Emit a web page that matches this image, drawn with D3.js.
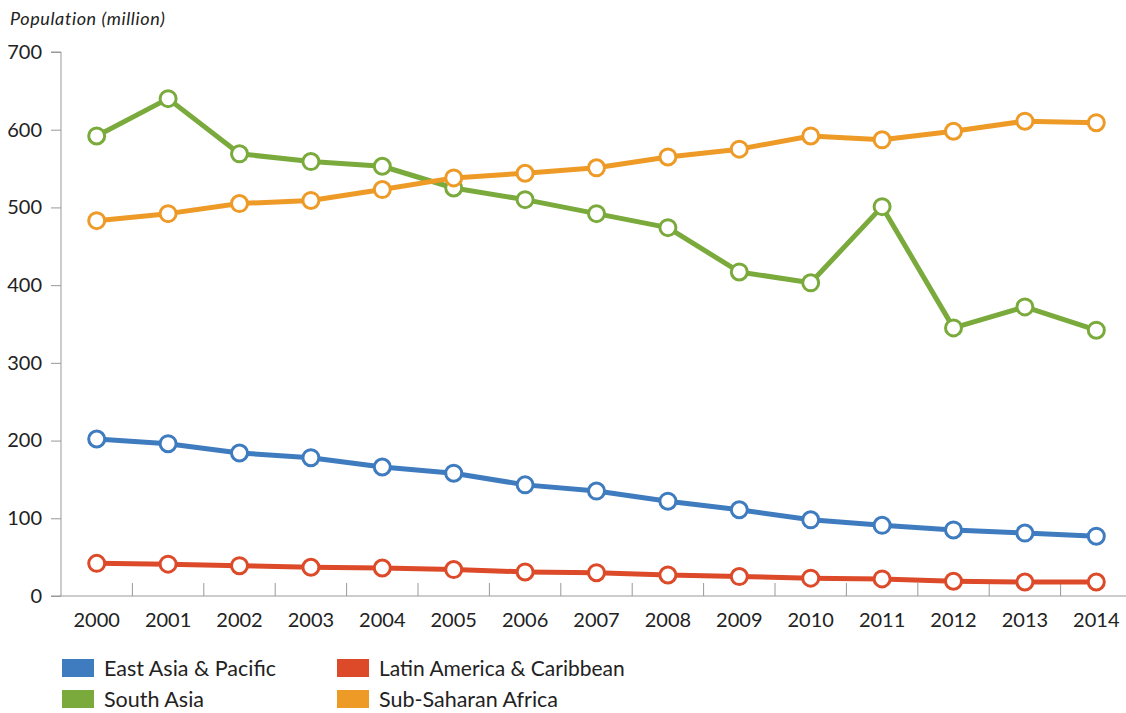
<!DOCTYPE html>
<html><head><meta charset="utf-8">
<script src="https://cdn.jsdelivr.net/npm/d3@7"></script>
<style>body{margin:0;background:#fff;} text{font-family:Lato,"Open Sans",sans-serif;fill:#222;}</style>
</head><body><svg id="c" width="1126" height="713"></svg>
<script>
const years = ["2000","2001","2002","2003","2004","2005","2006","2007","2008","2009","2010","2011","2012","2013","2014"];
const eastAsia = [202,196,184,178,166,158,143,135,122,111,98,91,85,81,77];
const latinAmerica = [42,41,39,37,36,34,31,30,27,25,23,22,19,18,18];
const southAsia = [592,640,569,559,553,525,510,492,474,417,403,501,345,372,342];
const subSaharan = [483,492,505,509,523,538,544,551,565,575,592,587,598,611,609];
const yTicks = [0,100,200,300,400,500,600,700];
const seriesNames = ["East Asia & Pacific","Latin America & Caribbean","South Asia","Sub-Saharan Africa"];
const colors = ["#3f7bbf","#dc4a29","#7aaa3c","#ee9a27"];
const seriesValues = [eastAsia, latinAmerica, southAsia, subSaharan];

const svg = d3.select("#c");
const x = d3.scaleBand().domain(years).range([61, 1132]);
const y = d3.scaleLinear().domain([0,700]).range([596,52]);

// Title
svg.append("text").attr("x",10).attr("y",25).style("font-style","italic").style("font-size","18px")
  .style("letter-spacing","0.6px").text("Population (million)");

// Y axis
const yAxis = svg.append("g").attr("transform","translate(61,0)")
  .call(d3.axisLeft(y).tickValues(yTicks).tickSize(10).tickPadding(9));
yAxis.select(".domain").attr("stroke","#999").attr("d","M-10,52H0V596");
yAxis.selectAll(".tick line").attr("stroke","#999");
yAxis.selectAll(".tick text").style("font-size","20px").attr("fill","#222");

// X axis
const xAxis = svg.append("g").attr("transform","translate(0,596)")
  .call(d3.axisBottom(x).tickSize(0).tickPadding(17));
xAxis.select(".domain").attr("stroke","#999").attr("d","M51,0H1126");
xAxis.selectAll(".tick text").style("font-size","20px").attr("fill","#222");
// boundary ticks pointing up
svg.append("g").selectAll("line").data(years.slice(1)).join("line")
  .attr("x1",d=>x(d)).attr("x2",d=>x(d)).attr("y1",583).attr("y2",596).attr("stroke","#999");

// Lines
const line = d3.line().x((d,i)=>x(years[i])+x.bandwidth()/2).y(d=>y(d));
seriesValues.forEach((vals,k)=>{
  const g = svg.append("g");
  g.append("path").datum(vals).attr("d",line).attr("fill","none")
    .attr("stroke",colors[k]).attr("stroke-width",5).attr("stroke-linejoin","round");
  g.selectAll("circle").data(vals).join("circle")
    .attr("cx",(d,i)=>x(years[i])+x.bandwidth()/2).attr("cy",d=>y(d)).attr("r",8)
    .attr("fill","#fff").attr("stroke",colors[k]).attr("stroke-width",3);
});

// Legend
const legendPos = [[62,659],[337,659],[62,690],[337,690]];
seriesNames.forEach((n,k)=>{
  const [lx,ly]=legendPos[k];
  svg.append("rect").attr("x",lx).attr("y",ly).attr("width",32).attr("height",18).attr("fill",colors[k]);
  svg.append("text").attr("x",lx+42).attr("y",ly+17).style("font-size",k==1?"21px":"21.5px").text(n);
});
</script></body></html>
